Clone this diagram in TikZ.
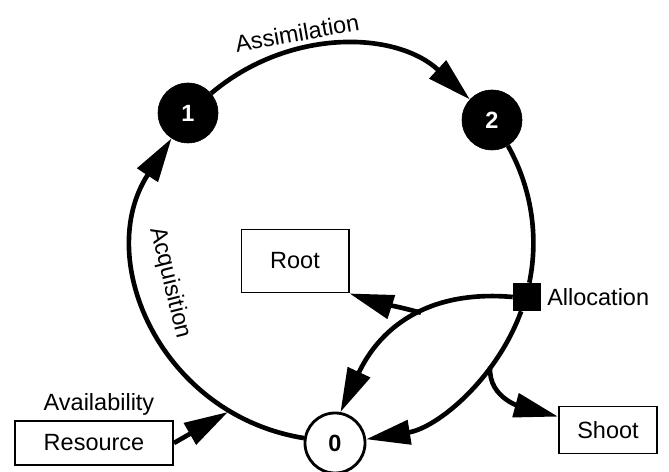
\documentclass[tikz,border=0pt]{standalone}
\usepackage{fontspec}
\setmainfont{Liberation Sans}
\usetikzlibrary{arrows.meta}
\usetikzlibrary{positioning}
\tikzset{flow/.style = {-{Triangle[length=1.1cm, width=0.6cm]}, line width=3.3pt}}
\tikzset{ring/.style = {line width=3.3pt}}
\tikzset{tag/.style = {inner sep=0pt, font=\fontsize{16.7}{20}\selectfont}}
\tikzset{box/.style = {draw, line width=1.4pt, inner sep=0pt, font=\fontsize{16.7}{20}\selectfont}}
\tikzset{pool/.style = {draw, circle, fill=black, text=white, minimum size=1.5cm,
                        inner sep=0pt, font=\fontsize{16.7}{20}\selectfont\bfseries}}

\begin{document}
\begin{tikzpicture}[x=0.025cm, y=0.025cm]
      \useasboundingbox (0, 0) rectangle (669, 472);
      \node [pool] (n1) at (188, 359) {1};
      \node [pool] (n2) at (492, 352) {2};
      \node [pool, fill=white, text=black, line width=2pt] (n0) at (335, 29) {0};
      \node [fill=black, minimum size=0.7cm, inner sep=0pt] (alloc) at (527, 175) {};
      \node [tag, anchor=west] (alloclbl) at (547, 175) {Allocation};
      \node [box, minimum width=2.675cm, minimum height=1.575cm] (root) at (295, 211) {Root};
      \node [box, minimum width=2.45cm, minimum height=1.175cm] (shoot) at (608, 42) {Shoot};
      \node [box, minimum width=3.95cm, minimum height=1.1cm] (res) at (94, 29) {Resource};
      \node [tag] (availlbl) at (99, 68) {Availability};
      \node [tag, rotate=10] (assimlbl) at (297, 439) {Assimilation};
      \node [tag, rotate=-76] (acqlbl) at (170, 189) {Acquisition};
      \coordinate (avail) at (228, 60);
      % ring of the cycle
      \draw [flow] (n0) to [bend left=57, looseness=1.13] (n1);
      \draw [flow] (n1) to [bend left=41.6, looseness=1.0] (n2);
      \draw [ring] (n2) to [bend left=20.5, looseness=0.88] (alloc);
      \draw [flow] (alloc) to [bend left=30.4, looseness=0.92] coordinate [pos=0.3] (s1) (n0);
      % inner allocation
      \draw [flow] (alloc.west) to [out=175, in=65, looseness=1.1] coordinate [pos=0.42] (s2) (n0.80);
      \draw [flow] (s1) to [out=-95, in=165] (shoot.165);
      \draw [flow] (s2) to [out=165, in=-18] (root.south east);
      \draw [flow] (res.east) -- (avail);
    \end{tikzpicture}
\end{document}
